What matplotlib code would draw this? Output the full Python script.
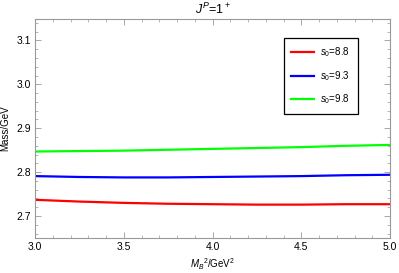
import numpy as np
import matplotlib
matplotlib.use("Agg")
import matplotlib.pyplot as plt
from matplotlib.ticker import MultipleLocator, FormatStrFormatter

plt.rcParams['font.family'] = ['Liberation Sans', 'DejaVu Sans']
plt.rcParams['mathtext.fontset'] = 'custom'
plt.rcParams['mathtext.rm'] = 'Liberation Sans'
plt.rcParams['mathtext.it'] = 'Liberation Sans:italic'

mb2 = [3.0, 3.25, 3.5, 3.75, 4.0, 4.25, 4.5, 4.75, 5.0]
mass_88 = [2.737, 2.733, 2.730, 2.728, 2.727, 2.726, 2.726, 2.727, 2.727]
mass_93 = [2.791, 2.789, 2.788, 2.788, 2.789, 2.790, 2.791, 2.793, 2.794]
mass_98 = [2.847, 2.848, 2.849, 2.851, 2.853, 2.855, 2.857, 2.860, 2.862]
labels = ['$s_0$=8.8', '$s_0$=9.3', '$s_0$=9.8']
colors = ['#ff0000', '#0000ff', '#00ff00']

fig = plt.figure(figsize=(3.99, 2.73), dpi=100)
ax = fig.add_axes([35/399, 1 - 238/273, (390-35)/399, (238-18.5)/273])

for y, lab, c in zip([mass_88, mass_93, mass_98], labels, colors):
  ax.plot(mb2, y, color=c, lw=1.6, label=lab)

ax.set_xlim(3.0, 5.0)
ax.set_ylim(2.65, 3.15)
ax.xaxis.set_major_locator(MultipleLocator(0.5))
ax.xaxis.set_minor_locator(MultipleLocator(0.1))
ax.yaxis.set_major_locator(MultipleLocator(0.1))
ax.yaxis.set_minor_locator(MultipleLocator(0.02))
ax.xaxis.set_major_formatter(FormatStrFormatter('%.1f'))
ax.yaxis.set_major_formatter(FormatStrFormatter('%.1f'))
ax.tick_params(which='both', direction='in', top=True, right=True, color='#999999',
               labelsize=7.5, pad=3)
ax.tick_params(which='major', length=4, width=0.6)
ax.tick_params(which='minor', length=2, width=0.5)
for s in ax.spines.values():
  s.set_color('#999999')
  s.set_linewidth(0.8)

ax.set_title('$J^P$=1$^+$', fontsize=9, pad=3)
ax.set_ylabel('Mass/GeV', fontsize=7, labelpad=4)
ax.set_xlabel('$M_B$$^2$/GeV$^2$', fontsize=7, labelpad=3)

leg = ax.legend(loc='upper right', bbox_to_anchor=(0.91, 0.912), fontsize=7,
                fancybox=False, framealpha=1, edgecolor='black', borderpad=0.8,
                labelspacing=1.0, handlelength=2.3, handletextpad=0.7,
                borderaxespad=0)
leg.get_frame().set_linewidth(0.9)

fig.savefig('out.png', dpi=100)
